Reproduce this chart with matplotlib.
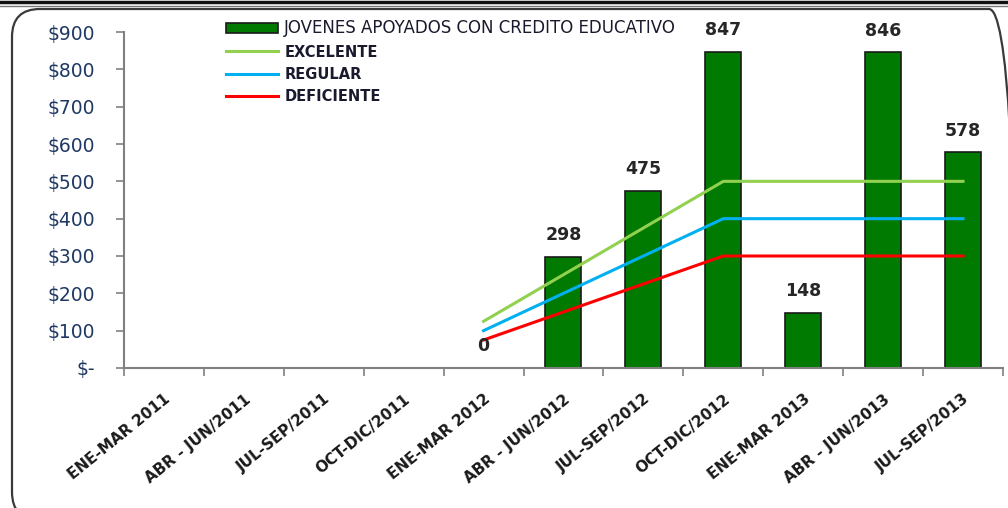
import numpy as np
import matplotlib.pyplot as plt
from matplotlib.patches import FancyBboxPatch

periodos = ["ENE-MAR 2011", "ABR - JUN/2011", "JUL-SEP/2011", "OCT-DIC/2011",
            "ENE-MAR 2012", "ABR - JUN/2012", "JUL-SEP/2012", "OCT-DIC/2012",
            "ENE-MAR 2013", "ABR - JUN/2013", "JUL-SEP/2013"]
jovenes = [np.nan, np.nan, np.nan, np.nan, 0, 298, 475, 847, 148, 846, 578]
excelente = [np.nan, np.nan, np.nan, np.nan, 125, 250, 375, 500, 500, 500, 500]
regular = [np.nan, np.nan, np.nan, np.nan, 100, 200, 300, 400, 400, 400, 400]
deficiente = [np.nan, np.nan, np.nan, np.nan, 75, 150, 225, 300, 300, 300, 300]
yticks = [0, 100, 200, 300, 400, 500, 600, 700, 800, 900]
ylabels = ["$-"] + [f"${v}" for v in yticks[1:]]

plt.rcParams['font.family'] = ['DejaVu Sans']

fig = plt.figure(figsize=(10.08, 5.08), dpi=100)

# background layer in pixel units for the frame
bg = fig.add_axes([0, 0, 1, 1], zorder=0)
bg.set_xlim(0, 1008)
bg.set_ylim(0, 508)
bg.axis('off')
bg.add_patch(FancyBboxPatch((12, -12), 1005, 511, boxstyle="round,pad=0,rounding_size=28",
                            fill=False, edgecolor='#3a3a3a', lw=1.6))
bg.plot([0, 1008], [506, 506], color='#111111', lw=2.5)
bg.plot([0, 1008], [502.5, 502.5], color='#777777', lw=1)

ax = fig.add_axes([0.123, 0.2756, 0.872, 0.6614], zorder=1)
ax.patch.set_alpha(0)

x = np.arange(len(periodos))
bars = ax.bar(x, jovenes, width=0.45, color='#007a00', edgecolor='#1a1a1a', linewidth=1.2,
              label='JOVENES APOYADOS CON CREDITO EDUCATIVO', zorder=2)
l1, = ax.plot(x, excelente, color='#92d050', lw=2.2, label='EXCELENTE', zorder=3)
l2, = ax.plot(x, regular, color='#00b0f0', lw=2.2, label='REGULAR', zorder=3)
l3, = ax.plot(x, deficiente, color='#ff0000', lw=2.2, label='DEFICIENTE', zorder=3)

for xi, v in zip(x, jovenes):
    if not np.isnan(v):
        ax.annotate(f"{int(v)}", (xi, v), xytext=(0, 9), textcoords='offset points',
                    ha='center', va='bottom', fontsize=12.5, fontweight='bold', color='#262626',
                    zorder=5)

ax.set_xlim(-0.5, len(periodos) - 0.5)
ax.set_ylim(0, 900)
ax.set_yticks(yticks)
ax.set_yticklabels(ylabels, fontsize=13.5, color='#1f3864')
ax.set_xticks(x)
ax.set_xticklabels(periodos, rotation=39, ha='right', rotation_mode='anchor',
                   fontsize=11, fontweight='bold', color='#1a1a1a')
ax.set_xticks(np.arange(-0.5, len(periodos)), minor=True)
ax.tick_params(axis='x', which='major', length=0, pad=17)
ax.tick_params(axis='x', which='minor', length=6, color='#808080', width=1.2)
ax.tick_params(axis='y', length=6, color='#808080', width=1.2, pad=15)
for s in ['top', 'right']:
    ax.spines[s].set_visible(False)
for s in ['left', 'bottom']:
    ax.spines[s].set_color('#808080')
    ax.spines[s].set_linewidth(1.5)

leg = ax.legend(handles=[bars, l1, l2, l3], loc='upper left',
                bbox_to_anchor=(0.211, 0.988), bbox_transform=fig.transFigure,
                frameon=False, handlelength=3.6, handletextpad=0.4, labelspacing=0.5,
                prop={'weight': 'bold', 'size': 10.5})
for t in leg.get_texts():
    t.set_color('#1a1a2e')
leg.get_texts()[0].set_fontweight('normal')
leg.get_texts()[0].set_fontsize(12)
leg.set_zorder(1)

fig.savefig("out.png", dpi=100)
